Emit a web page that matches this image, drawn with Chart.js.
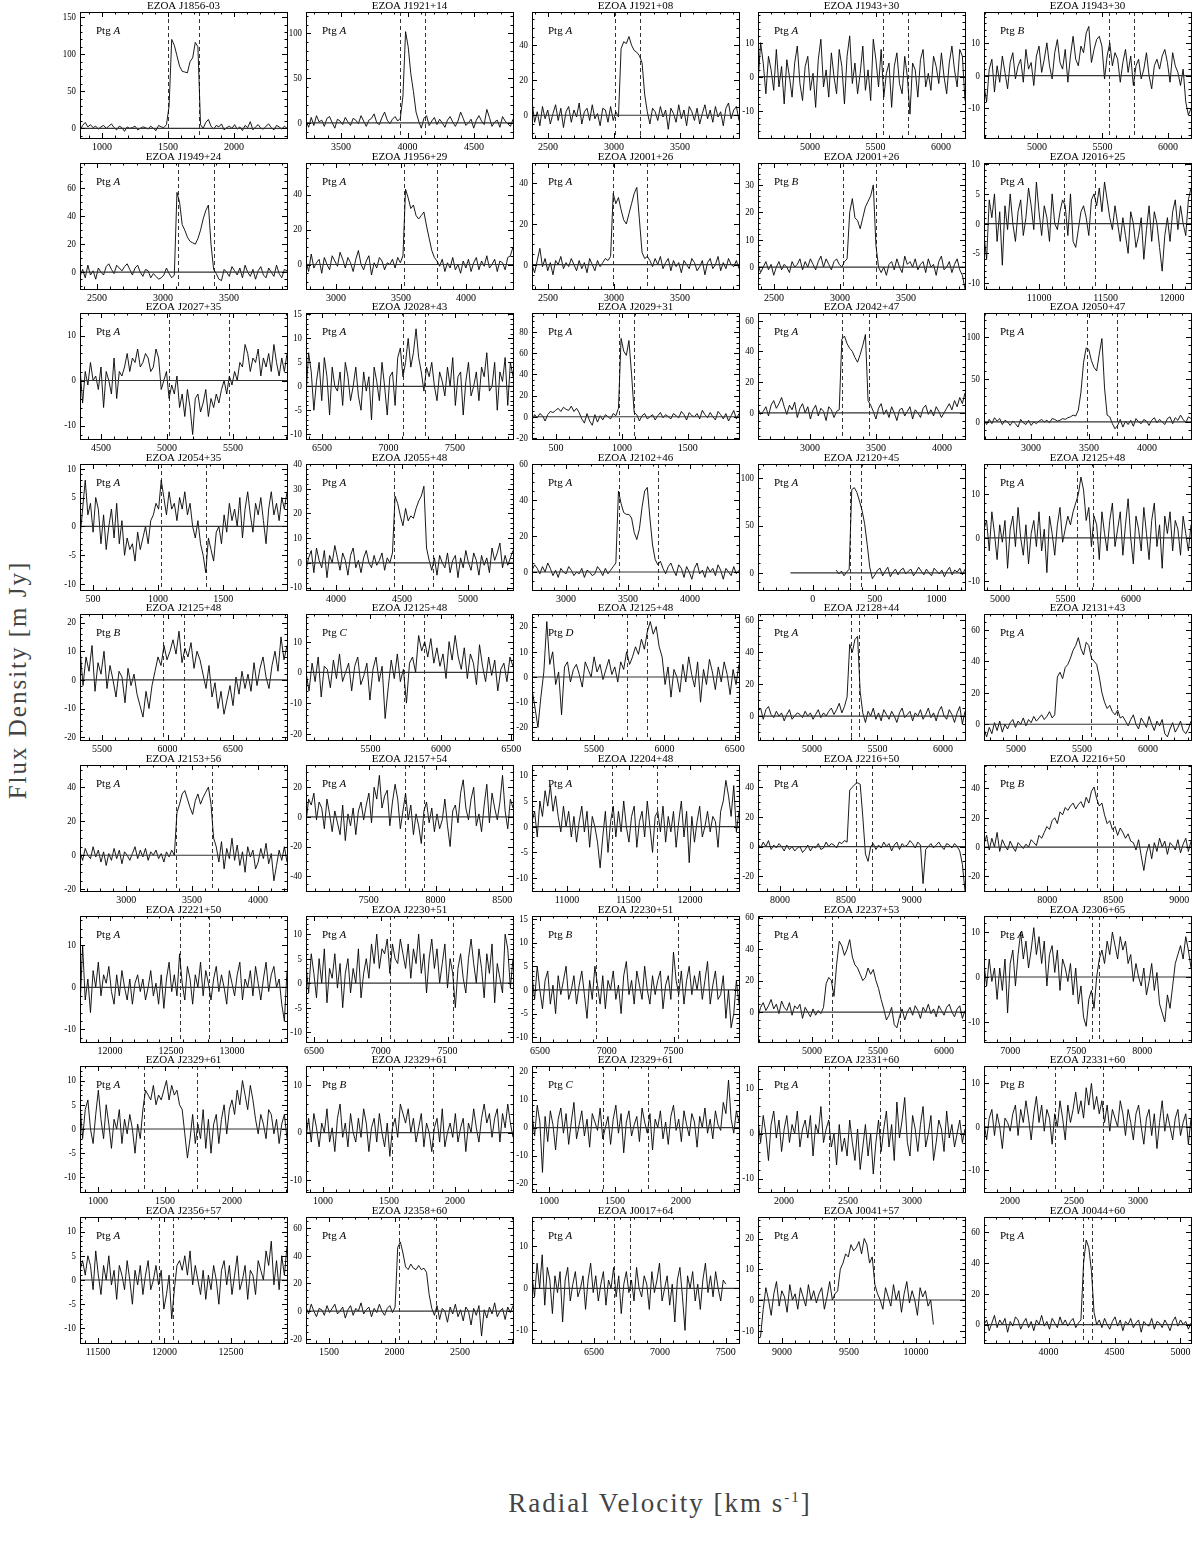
<!DOCTYPE html>
<html>
<head>
<meta charset="utf-8">
<script src="https://cdn.jsdelivr.net/npm/chart.js@4.4.1/dist/chart.umd.min.js"></script>
<style>
body { margin: 0; background: #fff; }
#page { position: relative; width: 1200px; height: 1559px; overflow: hidden; background: #fff; }
#page canvas { position: absolute; }
.ytitle { position: absolute; left: 18px; top: 680px; transform: translate(-50%, -50%) rotate(-90deg);
  font-family: 'Liberation Serif', serif; font-size: 25px; letter-spacing: 2px; color: #444; white-space: nowrap; }
.xtitle { position: absolute; left: 660px; top: 1503px; transform: translate(-50%, -50%);
  font-family: 'Liberation Serif', serif; font-size: 27px; letter-spacing: 2px; color: #444; white-space: nowrap; }
.xtitle sup { font-size: 15px; }
</style>
</head>
<body>
<div id="page">
  <div class="ytitle">Flux Density [m Jy]</div>
  <div class="xtitle">Radial Velocity [km s<sup>-1</sup>]</div>
</div>
<script>
// panel titles and pointings, row by row
var titles = ['EZOA J1856-03','EZOA J1921+14','EZOA J1921+08','EZOA J1943+30','EZOA J1943+30',
  'EZOA J1949+24','EZOA J1956+29','EZOA J2001+26','EZOA J2001+26','EZOA J2016+25',
  'EZOA J2027+35','EZOA J2028+43','EZOA J2029+31','EZOA J2042+47','EZOA J2050+47',
  'EZOA J2054+35','EZOA J2055+48','EZOA J2102+46','EZOA J2120+45','EZOA J2125+48',
  'EZOA J2125+48','EZOA J2125+48','EZOA J2125+48','EZOA J2128+44','EZOA J2131+43',
  'EZOA J2153+56','EZOA J2157+54','EZOA J2204+48','EZOA J2216+50','EZOA J2216+50',
  'EZOA J2221+50','EZOA J2230+51','EZOA J2230+51','EZOA J2237+53','EZOA J2306+65',
  'EZOA J2329+61','EZOA J2329+61','EZOA J2329+61','EZOA J2331+60','EZOA J2331+60',
  'EZOA J2356+57','EZOA J2358+60','EZOA J0017+64','EZOA J0041+57','EZOA J0044+60'];
var pointings = ['A','A','A','A','B', 'A','A','A','B','A', 'A','A','A','A','A', 'A','A','A','A','A',
  'B','C','D','A','A', 'A','A','A','A','B', 'A','A','B','A','A', 'A','B','C','A','B', 'A','A','A','A','A'];

// axis limits (km/s and mJy)
var xLimits = [[833,2401],[3237,4793],[2379,3947],[4603,6183],[4596,6176],
  [2371,3939],[2769,4361],[2379,3947],[2379,3947],[10586,12142],
  [4341,5909],[6380,7936],[318,1888],[2606,4174],[2595,4379],
  [400,1990],[3772,5342],[2726,4395],[-443,1230],[4878,6458],
  [5332,6912],[5042,6512],[5059,6530],[4588,6168],[4757,6326],
  [2650,4220],[7030,8580],[10715,12398],[7833,9403],[7520,9090],
  [11754,13451],[6440,7990],[6440,7990],[4591,6160],[6800,8370],
  [866,2411],[871,2440],[871,2440],[1797,3414],[1797,3414],
  [11365,12921],[1324,2904],[6030,7600],[8821,10366],[3510,5080]];
var yLimits = [[-13,157],[-17,124],[-13,59],[-18,19],[-19,19.4],
  [-12,78],[-14,58],[-12,50],[-8,38],[-11,10.2],
  [-13,15],[-11,15.3],[-21,98],[-17,65],[-20,128],
  [-11,10.8],[-11,40],[-10,60],[-18,115],[-12,17],
  [-21,23],[-22,19],[-25,25],[-15,64],[-10,70],
  [-21,53],[-50,35],[-12.5,12],[-30,55],[-30,56],
  [-13,17],[-12,13.7],[-11,15.6],[-19,61],[-14.5,13.6],
  [-13,13],[-12.5,14],[-23,22],[-13,15],[-15,14],
  [-13,13],[-23,68],[-13,17],[-14,27],[-12,70]];
var yMajor = [50,50,20,10,10, 20,20,20,10,5, 10,5,20,20,50, 5,10,20,50,10,
  10,10,10,20,20, 20,20,5,20,20, 10,5,5,20,10, 5,10,10,10,10, 5,20,10,10,20];
var xMajor = 500, xMinor = 100;

// velocity interval of each galaxy (dashed lines)
var markers = [[1500,1734],[3944,4132],[3008,3197],[5557,5748],[5550,5741],
  [3113,3386],[3523,3776],[2990,3250],[3023,3273],[11187,11420],
  [5015,5470],[7109,7275],[977,1091],[3242,3447],[3483,3742],
  [1022,1368],[4439,4735],[3427,3742],[303,393],[5588,5710],
  [5965,6126],[5735,5880],[5734,5876],[5298,5359],[5568,5765],
  [3378,3651],[7773,7917],[11365,11731],[8576,8697],[8377,8498],
  [12574,12812],[7069,7541],[6919,7533],[5152,5667],[7619,7672],
  [1343,1739],[1523,1834],[1409,1750],[2352,2750],[2352,2726],
  [11959,12064],[2034,2316],[6652,6773],[9388,9686],[4260,4328]];

// first and last channel velocity of each spectrum
var velRange = xLimits.slice();
velRange[18] = [190,1230];
velRange[42] = [6030,7500];
velRange[43] = [8840,10130];
var zeroFrom = xLimits.map(function(l){ return l[0]; });
zeroFrom[18] = -181;

// flux densities (mJy), channel by channel
var J1856_03A = [-3,4,8,2,5,1,3,-1,2,4,0,3,6,1,-2,3,1,-4,2,0,1,3,-2,0,2,1,-1,3,0,-3,4,2,1,5,
  30,120,112,98,84,77,76,75,90,95,116,110,5,
  0,8,12,3,-1,4,2,6,-2,1,3,0,5,-1,2,-3,4,1,9,-2,2,5,0,-1,3,6,1,-2,4,2,-1,3,0];
var J1921_14A = [2,-5,6,-3,8,1,3,-4,5,7,0,-6,4,2,-2,6,1,-3,5,3,-1,8,2,-4,3,5,10,0,-2,6,12,3,-1,4,7,2,5,
  30,102,85,55,35,12,2,
  -6,5,8,-3,2,6,-2,4,0,-5,3,7,1,-4,2,12,5,-3,0,4,-6,3,8,2,-2,15,6,-4,1,3,-5,7,2,-1,-4,4];
var J1921_08A = [8,-4,2,-6,5,-2,3,-5,1,6,-3,4,-7,2,5,-4,3,-1,7,-5,2,4,-3,6,-2,1,-6,4,3,-4,5,-3,2,-1,
  38,42,41,45,40,37,36,34,30,12,2,
  -5,4,2,-3,5,-1,3,-8,4,1,-4,6,-2,3,-6,5,2,-3,4,-5,1,6,-2,3,-4,5,-1,2,-6,4,7,-2,3,5,-3];
var J1943_30A = [-2,10,4,-5,6,2,-4,8,-3,3,-8,5,0,-6,4,9,-2,-7,3,6,-4,1,-9,5,11,-3,2,-6,7,0,-5,8,3,-8,6,12,-2,4,-5,1,
  9,-4,2,-7,11,5,-3,8,-6,1,4,-9,3,7,-2,-5,6,0,-11,4,2,-6,5,8,-3,1,-4,6,3,-2,7,0,-5,4,9,2,-3,8,6,-7];
var J1943_30B = [-3,-8,2,5,-5,3,-2,6,1,-4,4,7,-1,3,5,-2,8,2,4,-3,6,9,1,5,10,3,-1,7,11,4,2,8,-2,6,12,5,3,9,7,13,
  15,4,8,11,12,9,-1,6,10,3,7,5,-2,4,8,1,6,-3,3,5,-1,2,7,0,-4,3,5,2,6,8,4,-2,7,3,1,-3,2,-8,-12,-10];
var J1949_24A = [-3,2,-4,5,-2,1,-5,3,0,-2,4,6,2,-1,5,3,1,4,6,2,-2,3,5,0,-3,2,1,-4,-1,-3,-5,-4,-2,3,-1,-4,-2,
  57,50,34,30,25,22,21,20,24,30,38,44,48,20,2,
  -1,-5,-6,2,0,-3,4,1,-2,3,-4,5,0,-3,2,-5,1,4,-2,-4,3,0,-3,5,-1,-4,2,1];
var J1956_29A = [2,-4,6,-2,1,3,-5,4,0,-3,5,2,-1,7,3,-2,4,1,-4,3,8,0,-3,2,5,-6,1,-2,4,2,-3,1,0,3,-2,4,1,
  5,43,38,32,34,28,26,28,30,22,15,8,4,
  2,-1,3,-4,1,-2,4,-3,0,-5,2,-2,3,-4,1,4,-3,2,-1,5,-2,0,3,-4,2,1,-3,4,5,10];
var J2001_26A = [0,-4,2,8,-1,3,-3,1,-5,2,0,4,-2,1,-1,3,0,-3,2,-2,1,-4,3,0,-3,2,-1,1,3,2,4,
  35,30,33,27,22,20,25,30,35,38,22,6,3,
  4,2,-1,3,0,4,-2,1,3,-3,2,-1,1,-4,2,0,-2,3,1,-3,-1,2,-5,1,3,-2,0,4,-3,1,-2,3,0,-1,2,-2];
var J2001_26B = [1,-2,0,2,-1,1,-3,0,2,-1,1,0,-2,2,0,1,3,-1,2,0,3,1,-1,2,4,0,3,1,-1,2,3,1,0,2,3,
  20,25,18,17,14,18,22,24,26,30,8,0,
  -2,0,-3,1,2,-1,3,0,-2,4,1,2,0,3,-1,1,2,-2,3,0,1,-3,2,4,-1,0,2,-2,1,3,-1,-3,-8];
var J2016_25A = [-2,-6,4,1,5,-3,2,-7,3,-1,5,0,-3,2,4,-2,1,6,3,-1,7,2,-2,3,1,-3,5,0,-1,2,4,3,-2,5,-3,-4,-1,2,3,1,
  -2,4,5,3,6,2,7,4,1,-1,3,0,-3,1,-2,-5,2,0,-4,-2,1,-6,-1,3,-3,2,0,-4,-8,-2,1,-3,2,4,-1,3,0,-2,4,6];
var J2027_35A = [3,-5,2,-1,4,0,1,-2,3,-6,2,0,-3,5,-4,2,1,3,6,2,5,4,7,3,4,6,5,2,3,7,5,-2,0,2,-4,-1,-3,1,-6,-3,-8,-2,-6,-12,-4,-3,
  -7,-5,-2,-8,-4,-6,-3,-5,-2,0,-3,1,-1,2,0,4,3,8,6,2,5,4,7,1,5,3,6,2,8,4,1,5,2,6];
var J2028_43A = [-2,7,3,-5,1,5,-3,6,2,-6,4,0,-1,3,-4,5,2,-3,0,4,-2,-5,3,-1,2,-7,4,1,-3,5,0,-6,2,3,-4,6,8,2,5,10,
  4,7,12,6,3,-1,4,2,5,0,-3,3,1,-2,4,0,6,-4,2,3,-6,1,5,-2,0,3,-3,4,2,7,-1,0,5,-5,3,1,6,-4,5,2];
var J2029_31A = [-3,2,-1,3,1,-4,2,5,4,6,8,5,9,7,6,10,5,8,4,-2,-6,3,-4,-8,2,-5,1,-3,2,0,-2,3,1,
  8,74,62,58,72,40,4,
  2,-4,1,3,-2,0,2,-3,1,4,-1,2,0,-2,3,1,-1,5,2,-3,4,1,0,3,-2,6,2,-1,4,0,-3,5,2,-2,3,-4,1,6,-2,3];
var J2042_47A = [3,-1,1,4,-2,5,8,3,6,10,4,-1,5,2,7,-3,3,6,0,4,-4,2,5,-2,3,1,-5,4,2,-3,1,2,
  48,50,45,42,40,36,33,38,44,51,8,
  5,1,-4,3,6,-1,2,-3,4,0,-5,2,3,-2,1,4,-4,2,0,-3,3,5,-1,2,-2,4,1,-3,0,3,6,2,8,4,10,6,13];
var J2050_47A = [2,-3,3,-2,5,1,4,-3,2,0,-4,1,-2,-6,3,-1,-3,2,-4,0,-2,1,3,0,2,-1,4,3,1,2,4,3,5,6,8,7,
  14,35,70,87,85,72,64,60,80,98,40,8,
  6,-2,-8,-4,3,-6,1,-3,2,-5,4,0,-2,3,1,-4,2,5,-1,3,0,-3,4,6,-2,5,2,8,3,-1,6,4];
var J2054_35A = [-2,3,8,2,4,-1,5,3,-3,2,-4,0,3,-2,4,-3,1,-5,-2,-4,-3,-6,-1,-4,-2,0,-3,1,2,4,3,8,5,2,6,3,4,1,5,3,
  6,2,4,0,-2,1,-3,-5,-8,-2,-4,-6,-1,0,-3,2,-1,4,1,3,0,5,-2,3,6,2,-1,4,2,5,1,-3,3,6,2,4,1,5,3,6];
var J2055_48A = [-3,2,5,-4,6,1,-2,5,-6,3,0,7,2,-3,4,1,-5,3,6,-2,1,-4,2,5,0,-2,3,-1,1,4,-3,2,0,4,
  27,24,19,15,22,17,19,18,22,25,27,31,6,
  1,-3,2,-5,3,0,-2,4,-4,1,3,-6,2,-2,5,0,-3,4,1,-5,3,-1,2,-4,6,1,4,8,-2,3,-1,2,5];
var J2102_46A = [1,4,2,-1,3,0,5,2,-2,1,-3,2,0,-1,3,1,-2,0,-1,2,-3,1,0,-2,-1,3,1,-2,2,-1,1,3,5,
  45,38,33,32,32,30,22,18,24,36,45,47,30,15,7,
  4,6,2,-1,3,5,1,-2,4,2,-3,3,0,-4,2,5,-1,1,-3,3,0,2,-2,4,1,-4,2,0,-2,3,-1,1];
var J2120_45A = [3,-1,2,-3,1,4,88,90,85,76,66,52,30,6,-6,-2,3,5,-3,2,6,-4,1,4,-2,3,5,-1,2,4,-3,1,6,
  2,-2,4,0,-3,5,2,-1,3,-4,2,6,-2,3,1,5,-2,4];
var J2125_48A = [2,4,-3,6,1,-5,3,-1,4,-7,2,5,-2,7,0,-4,3,-6,1,4,-2,6,-3,2,-8,5,1,-4,3,7,-1,2,5,3,
  6,8,10,14,11,4,7,-2,5,3,-5,6,1,-3,4,8,-2,2,6,-4,3,9,0,-6,5,2,-3,7,1,-5,4,8,-2,3,-7,5,1,6,-3,4,2,-4,5,1,-3,3];
var J2125_48B = [11,-2,8,3,12,-4,6,2,10,-3,5,0,-6,3,1,-8,4,-2,2,-5,-9,-13,-4,-10,-2,3,8,5,12,7,10,14,9,17,6,11,8,13,4,10,
  7,2,-3,5,-6,-1,-10,-4,-12,-7,-2,-9,1,-5,3,-3,2,-4,6,-2,4,8,1,-3,5,10,3,15,7,12];
var J2125_48C = [0,-6,3,-3,5,-8,2,1,-5,4,-2,6,-3,0,3,-6,2,5,-4,-1,3,-9,1,5,-3,2,-15,-5,4,-2,6,-3,1,-10,3,5,0,12,7,10,
  5,11,3,8,2,6,-2,10,4,12,5,1,8,-2,6,3,-4,9,2,-3,5,-1,4,-6,1,3,-3,5,2];
var J2125_48D = [-5,-12,-20,-8,2,22,5,10,-3,2,-15,4,6,-2,3,5,1,-4,6,3,0,8,2,5,-1,3,7,1,4,-2,6,3,10,5,8,12,9,15,11,18,
  22,17,20,12,8,-3,4,-8,3,0,-6,5,-2,8,1,-4,6,-10,3,-3,7,2,-5,4,-2,6,1,-7,3,-3,5];
var J2128_44A = [3,5,-2,4,6,1,-1,3,0,2,-3,1,4,-2,0,2,1,-1,3,0,2,-2,1,4,-1,2,0,3,5,1,4,8,2,6,
  12,45,40,48,50,15,2,
  -4,3,0,5,-2,2,-3,4,1,-2,3,0,-4,2,5,-1,1,3,-3,2,0,4,-2,1,5,-1,2,-3,3,6,0,-2,4,1,-4,2,6,-5,3];
var J2131_43A = [-3,-8,-2,-6,1,-4,2,-5,0,-3,1,3,-2,2,0,4,-1,3,1,5,2,4,6,3,5,8,4,6,
  30,33,29,36,38,42,47,50,55,48,44,52,50,42,40,38,30,20,14,10,12,8,6,9,4,5,
  2,-1,3,6,0,-3,4,1,-2,5,0,-4,2,-1,3,-6,-8,-3,1,-5,-2,2,-4,-6,-3,2];
var J2153_56A = [2,-3,4,0,-2,5,-1,3,-4,2,-6,1,-3,4,-2,3,-5,2,0,-3,1,5,-2,3,-1,4,-3,2,0,3,-2,1,-4,2,-1,3,0,
  25,30,36,38,33,28,24,32,36,30,34,37,40,30,10,
  5,-4,8,-8,4,-2,10,-3,6,-6,2,-10,5,-1,3,-8,-4,4,-2,7,-5,1,-15,-6,3,-3,5,-4];
var J2157_54A = [-4,12,8,16,-2,10,6,-8,12,2,-10,4,-4,-12,8,-16,2,-6,6,-12,4,10,-2,8,16,-4,20,12,28,6,14,18,-6,10,22,12,-8,4,16,-2,
  8,-12,2,-6,-18,4,10,-4,6,-10,2,-8,-2,12,-6,-20,4,8,-4,16,25,6,-2,12,20,-6,2,-10,8,22,-4,16,6,-2,10,28,4,-8,12,6];
var J2204_48A = [1,3,-2,5,2,7,4,8,3,6,2,-1,4,0,3,-2,2,-3,1,4,-1,3,-4,2,0,-3,-8,-2,3,-5,1,4,-2,3,-1,5,0,-3,2,4,
  -4,1,3,-2,5,0,-5,2,3,-1,4,-3,2,-1,3,-4,1,5,-2,3,-7,2,-3,1,4,-2,0,3,-1,2,1,-4,3,5,9,6,2,8,-1,3];
var J2216_50A = [2,-1,3,0,4,-2,1,-1,2,0,-3,1,-2,0,-3,-1,0,-4,-2,1,-3,0,-1,2,-2,-1,3,0,2,1,-1,3,2,4,3,
  38,40,42,43,42,20,-5,-10,
  0,2,-2,1,-1,3,0,2,-3,1,3,-2,2,0,1,4,2,-1,3,1,-25,-2,0,2,-1,1,3,0,-2,2,1,-1,2,0,-3,-12,-30];
var J2216_50B = [2,8,-2,6,0,10,-3,5,1,-2,4,0,-3,3,1,-1,2,0,5,3,1,8,6,10,14,12,18,20,16,24,22,27,25,28,30,26,29,31,27,34,
  30,38,41,33,28,30,22,16,18,12,14,8,13,10,6,9,4,3,-2,5,-6,-16,-4,2,-8,3,-3,6,0,4,-5,3,1,-2,5,-4,2,6,-3,4];
var J2221_50A = [-5,10,-3,2,-6,4,0,6,-2,3,1,5,-1,-4,3,-2,4,0,-3,2,-4,1,3,-1,2,-3,0,4,-2,1,-4,3,-5,2,6,-1,3,-2,8,1,
  -3,5,2,-4,3,0,6,-2,4,1,-3,2,5,-1,3,0,-4,4,1,-2,3,6,-3,2,0,4,-2,5,1,-3,2,6,-1,3,5,0,2,-4,-8,4];
var J2230_51A = [4,-2,6,2,-3,5,0,7,-4,3,1,6,-1,4,-5,2,5,-2,3,0,7,-3,2,5,1,8,4,10,3,7,6,9,2,8,5,4,9,6,3,8,
  1,7,4,10,2,6,-2,5,9,3,7,0,4,8,-1,5,2,-5,3,6,1,-2,5,9,4,0,7,3,-3,6,2,8,-4,4,1,-2,10,7,-1,5];
var J2230_51B = [3,-2,5,0,-4,2,4,-3,1,-5,3,-1,2,5,-2,0,3,-3,1,4,-1,-6,2,-2,5,1,-3,3,-4,2,0,4,-2,1,-5,3,6,-1,2,-3,
  4,1,-2,5,0,-3,3,-1,2,4,-4,1,3,-2,8,2,-1,4,-3,2,5,-1,3,0,4,-2,2,6,-3,1,4,-2,-1,3,-6,0,-8,-5,2,-3];
var J2237_53A = [-3,3,6,1,4,8,2,5,-1,7,3,1,6,-2,4,2,5,-4,3,0,-3,2,-2,1,-1,3,
  18,22,20,10,30,45,42,36,40,46,35,30,28,24,20,22,28,24,27,20,15,8,2,-5,
  -2,3,-8,-10,-3,2,-5,0,3,-2,4,1,-4,3,0,5,-1,2,-3,4,1,-2,3,5,0,-3,2,4,-4,1];
var J2306_65A = [3,-2,4,-1,2,-5,2,-3,4,-8,3,6,-2,5,10,4,8,2,6,11,5,9,3,8,-2,5,7,1,6,-3,4,2,-1,3,-4,2,-6,-2,-9,-11,-5,-3,-7,0,4,
  6,3,8,5,10,7,4,9,6,8,3,5,-1,3,0,-2,2,-4,-1,3,-3,1,-6,-8,-10,-4,-7,-2,3,5,7,4,9,6,2];
var J2329_61A = [5,-2,4,6,0,-3,3,8,2,-2,5,1,-4,2,0,4,-3,2,-1,3,0,-5,1,-2,4,8,7,6,9,5,7,6,8,10,
  6,9,7,8,5,4,-1,-6,-2,3,-3,1,-2,4,-4,2,-5,1,3,-3,2,5,-1,4,6,3,8,5,10,7,4,9,6,2,-1,3,1,-2,4,3,-1,2,-3,1,3,-2];
var J2329_61B = [-1,3,-2,4,1,-3,2,0,5,-2,1,-4,3,6,-1,2,-3,4,0,-2,3,-1,5,2,-4,1,3,-2,4,0,-3,2,-5,1,3,-1,6,4,2,5,
  0,3,-2,1,4,-3,2,0,-4,1,3,-2,5,-3,0,2,-1,4,-2,1,3,-4,2,0,5,1,-2,3,6,2,4,-1,3,5,-2,4,1,6,2,-1];
var J2329_61C = [5,-3,8,2,-16,4,-5,6,1,-8,3,7,-2,5,-6,2,9,-4,1,6,-3,3,-7,5,2,-1,7,-4,0,4,-6,3,8,-2,5,-9,2,6,-3,1,
  4,-5,7,2,-2,5,-8,3,0,6,-4,2,-6,4,8,-1,3,-5,6,1,-3,5,2,-7,4,0,7,-2,3,-4,6,1,-1,9,5,17,3,-2,6,2];
var J2331_60A = [3,-2,4,0,-6,2,5,-1,3,-4,1,4,-2,2,0,5,-3,1,3,-1,4,-5,2,0,6,-2,1,3,-3,0,-7,2,-4,-1,-5,3,-2,-6,1,-8,
  -3,2,-5,0,-9,-2,3,-4,1,5,-3,2,-6,7,-1,3,8,-2,-5,4,1,-4,2,6,-3,0,4,-6,-2,3,1,-4,5,-1,2,-3,0,3,-2,1];
var J2331_60B = [1,-3,2,4,-2,3,0,-5,2,1,-1,3,5,-2,4,1,6,2,-3,3,7,1,5,-1,4,2,-4,3,0,6,2,-3,5,1,4,8,3,6,2,9,
  5,10,4,7,3,6,1,5,-1,4,2,0,6,3,-2,4,1,-3,3,5,0,-4,2,4,-2,3,-5,1,6,-1,3,0,-3,2,4,-2,1,3,-4,2];
var J2356_57A = [2,4,1,5,3,-2,6,1,-3,3,0,5,-1,2,-4,3,1,-2,4,0,-5,2,-1,3,-3,1,4,-2,0,3,-1,2,-6,-3,1,-8,-2,3,4,2,
  5,1,6,-1,3,0,-3,2,-4,1,-2,3,0,-5,2,4,-1,3,-3,1,5,-2,0,3,-4,2,1,-3,4,2,0,6,3,8,-1,4,-2,5,1,7];
var J2358_60A = [3,-2,5,0,-4,2,1,-3,4,-1,2,5,-2,0,3,-5,1,4,-3,2,0,6,-2,1,3,-4,2,-1,5,0,-3,2,4,-1,3,
  46,50,42,32,30,34,31,30,33,30,31,28,12,2,
  -3,4,-6,2,0,-8,3,-2,5,-4,1,-7,3,0,-10,2,-3,4,-18,1,-5,3,-2,6,-4,0,2,-6,3,-1,4];
var J0017_64A = [3,-2,6,0,8,-4,5,2,-6,3,-1,4,-8,2,5,-3,1,4,-2,0,3,-5,2,6,-1,3,-3,1,4,-4,2,0,5,-2,3,-6,1,4,-1,2,
  -3,5,0,-2,3,1,-5,4,-1,2,6,-3,0,3,-4,1,-8,2,5,-2,-10,3,0,4,-3,1,-5,2,6,-1,3,-2,4,0,-3,2,1];
var J0041_57A = [-12,-3,4,0,-5,2,6,-2,3,1,-4,5,0,2,-3,4,1,-2,5,0,3,-1,2,4,-3,1,6,0,2,3,
  10,12,15,14,18,16,17,19,15,20,18,12,14,5,2,0,
  -3,4,1,-2,5,0,3,-4,2,6,-1,3,0,-5,4,1,3,-2,0,-8];
var J0044_60A = [0,3,-4,1,6,-2,3,0,4,-5,2,-1,5,3,-3,1,4,-2,2,-4,3,0,6,-1,2,-3,4,1,-2,5,0,3,-1,2,4,-2,1,3,
  40,55,50,35,8,0,
  3,-2,4,0,-3,2,5,-1,3,-4,2,0,4,-2,1,3,-5,2,0,-1,4,-3,2,1,-2,3,0,-4,2,5,-1,3,0,2,-3,1];

var spectra = [J1856_03A, J1921_14A, J1921_08A, J1943_30A, J1943_30B,
  J1949_24A, J1956_29A, J2001_26A, J2001_26B, J2016_25A,
  J2027_35A, J2028_43A, J2029_31A, J2042_47A, J2050_47A,
  J2054_35A, J2055_48A, J2102_46A, J2120_45A, J2125_48A,
  J2125_48B, J2125_48C, J2125_48D, J2128_44A, J2131_43A,
  J2153_56A, J2157_54A, J2204_48A, J2216_50A, J2216_50B,
  J2221_50A, J2230_51A, J2230_51B, J2237_53A, J2306_65A,
  J2329_61A, J2329_61B, J2329_61C, J2331_60A, J2331_60B,
  J2356_57A, J2358_60A, J0017_64A, J0041_57A, J0044_60A];

var FONT = "'Liberation Serif', serif";

function isMajor(v, step) {
  return Math.abs(v / step - Math.round(v / step)) < 1e-6;
}

// ticks on every multiple of the minor step inside the axis range
function stepTicks(step) {
  return function(scale) {
    var t = [];
    for (var k = Math.ceil(scale.min / step - 1e-9); k * step <= scale.max + 1e-9; k++) {
      t.push({ value: Math.round(k * step * 1000) / 1000 });
    }
    scale.ticks = t;
  };
}

// box, inward ticks, y labels, dashed velocity markers, title and pointing label
var panelFrame = {
  id: 'panelFrame',
  beforeDatasetsDraw: function(chart, args, o) {
    var ctx = chart.ctx, a = chart.chartArea, xs = chart.scales.x;
    ctx.save();
    ctx.strokeStyle = '#000';
    ctx.lineWidth = 0.8;
    ctx.setLineDash([4, 3]);
    o.markers.forEach(function(v) {
      var px = Math.round(xs.getPixelForValue(v)) + 0.5;
      ctx.beginPath(); ctx.moveTo(px, a.top); ctx.lineTo(px, a.bottom); ctx.stroke();
    });
    ctx.restore();
  },
  afterDraw: function(chart, args, o) {
    var ctx = chart.ctx, a = chart.chartArea;
    var xs = chart.scales.x, ys = chart.scales.y;
    ctx.save();
    ctx.strokeStyle = '#000';
    ctx.lineWidth = 1;
    ctx.strokeRect(Math.round(a.left) + 0.5, Math.round(a.top) + 0.5, Math.round(a.width), Math.round(a.height));
    ctx.beginPath();
    xs.ticks.forEach(function(t) {
      var px = Math.round(xs.getPixelForValue(t.value)) + 0.5;
      if (px < a.left || px > a.right) return;
      var len = isMajor(t.value, xMajor) ? 5 : 2.5;
      ctx.moveTo(px, a.bottom); ctx.lineTo(px, a.bottom - len);
      ctx.moveTo(px, a.top); ctx.lineTo(px, a.top + len);
    });
    ys.ticks.forEach(function(t) {
      var py = Math.round(ys.getPixelForValue(t.value)) + 0.5;
      if (py < a.top || py > a.bottom) return;
      var len = isMajor(t.value, o.yStep) ? 5 : 2.5;
      ctx.moveTo(a.left, py); ctx.lineTo(a.left + len, py);
      ctx.moveTo(a.right, py); ctx.lineTo(a.right - len, py);
    });
    ctx.stroke();

    // y tick labels, slightly condensed like the original plotting font
    ctx.fillStyle = '#000';
    ctx.font = '11px ' + FONT;
    ctx.textAlign = 'right';
    ctx.textBaseline = 'middle';
    ys.ticks.forEach(function(t) {
      if (!isMajor(t.value, o.yStep)) return;
      var py = ys.getPixelForValue(t.value);
      if (py < a.top - 1 || py > a.bottom + 1) return;
      ctx.save();
      ctx.translate(a.left - 4, py);
      ctx.scale(0.8, 1);
      ctx.fillText(String(Math.round(t.value)), 0, 0);
      ctx.restore();
    });

    ctx.textAlign = 'center';
    ctx.textBaseline = 'alphabetic';
    ctx.fillText(o.title, (a.left + a.right) / 2, a.top - 3);

    ctx.textAlign = 'left';
    var lx = a.left + 16, ly = a.top + 22;
    ctx.fillText('Ptg ', lx, ly);
    var w = ctx.measureText('Ptg ').width;
    ctx.font = 'italic 11px ' + FONT;
    ctx.fillText(o.ptg, lx + w, ly);
    ctx.restore();
  }
};

function makePanel(canvas, i) {
  var vals = spectra[i];
  var v0 = velRange[i][0], v1 = velRange[i][1];
  var pts = vals.map(function(y, k) {
    return { x: v0 + k * (v1 - v0) / (vals.length - 1), y: y };
  });
  var ystep = yMajor[i];
  var yminor = ystep === 20 ? 5 : ystep / 5;

  new Chart(canvas, {
    type: 'line',
    data: {
      datasets: [
        { data: [{ x: zeroFrom[i], y: 0 }, { x: xLimits[i][1], y: 0 }],
          borderColor: '#333', borderWidth: 1.2, pointRadius: 0 },
        { data: pts, borderColor: '#000', borderWidth: 0.9, pointRadius: 0, tension: 0 }
      ]
    },
    options: {
      responsive: false,
      animation: false,
      devicePixelRatio: 1,
      events: [],
      layout: { padding: { left: 0, top: 12, right: 33, bottom: 0 } },
      plugins: {
        legend: { display: false },
        tooltip: { enabled: false },
        panelFrame: { title: titles[i], ptg: pointings[i], markers: markers[i], yStep: ystep }
      },
      scales: {
        x: {
          type: 'linear',
          min: xLimits[i][0], max: xLimits[i][1],
          grid: { display: false, drawTicks: false },
          border: { display: false },
          afterFit: function(s) { s.height = 24; },
          afterBuildTicks: stepTicks(xMinor),
          ticks: {
            autoSkip: false, maxRotation: 0,
            padding: 3, color: '#000', font: { family: FONT, size: 10 },
            callback: function(v) { return isMajor(v, xMajor) ? String(v) : ''; }
          }
        },
        y: {
          min: yLimits[i][0], max: yLimits[i][1],
          grid: { display: false, drawTicks: false },
          border: { display: false },
          afterFit: function(s) { s.width = 60; },
          afterBuildTicks: stepTicks(yminor),
          ticks: { autoSkip: false, display: false }
        }
      }
    },
    plugins: [panelFrame]
  });
}

var page = document.getElementById('page');
for (var i = 0; i < spectra.length; i++) {
  var r = Math.floor(i / 5), c = i % 5;
  var cv = document.createElement('canvas');
  cv.width = 300;
  cv.height = 162;
  cv.style.left = (20 + 226 * c) + 'px';
  cv.style.top = Math.round(150.6 * r) + 'px';
  page.appendChild(cv);
  makePanel(cv, i);
}
</script>
</body>
</html>
